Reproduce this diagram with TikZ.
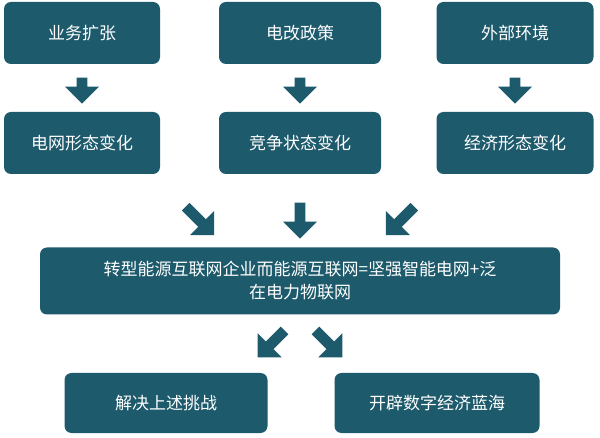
\documentclass[tikz,border=0pt]{standalone}
\usepackage{fontspec}
\newfontfamily\cjk{Noto Sans CJK SC}
\usetikzlibrary{shapes.arrows}
\definecolor{teal}{HTML}{1D5A6C}
\tikzset{
 box/.style={fill=teal,rounded corners=7pt,text=white,font=\cjk\fontsize{17}{23}\selectfont,align=center,inner sep=0pt},
 barrow/.style={single arrow,fill=teal,minimum height=28pt,minimum width=34pt,single arrow head extend=7pt,inner sep=3pt},
}
\begin{document}
\begin{tikzpicture}[x=1pt,y=-1pt]
\useasboundingbox (0,0) rectangle (600,438);
\node[box,minimum width=156pt,minimum height=62pt] (a1) at (82,33) {业务扩张};
\node[box,minimum width=162pt,minimum height=62pt] (a2) at (300,33) {电改政策};
\node[box,minimum width=157pt,minimum height=62pt] (a3) at (515,33) {外部环境};
\node[box,minimum width=156pt,minimum height=62pt] (b1) at (82,143) {电网形态变化};
\node[box,minimum width=162pt,minimum height=62pt] (b2) at (300,143) {竞争状态变化};
\node[box,minimum width=157pt,minimum height=62pt] (b3) at (515,143) {经济形态变化};
\node[box,minimum width=520pt,minimum height=67pt] (c) at (300,281) {转型能源互联网企业而能源互联网=坚强智能电网+泛\\在电力物联网};
\node[box,minimum width=203pt,minimum height=60pt] (d1) at (166,403) {解决上述挑战};
\node[box,minimum width=205pt,minimum height=60pt] (d2) at (437,403) {开辟数字经济蓝海};
\node[barrow,rotate=-90,minimum height=26pt] (p1) at (82,88) {};
\node[barrow,rotate=-90,minimum height=26pt] (p2) at (300,88) {};
\node[barrow,rotate=-90,minimum height=26pt] (p3) at (515,88) {};
\node[barrow,rotate=-45,minimum height=40pt] (q1) at (198,219) {};
\node[barrow,rotate=-90,minimum height=36pt] (q2) at (300,218) {};
\node[barrow,rotate=-135,minimum height=40pt] (q3) at (402,219) {};
\node[barrow,rotate=-135,minimum height=38pt] (r1) at (273,342) {};
\node[barrow,rotate=-45,minimum height=38pt] (r2) at (327,342) {};
\end{tikzpicture}
\end{document}
